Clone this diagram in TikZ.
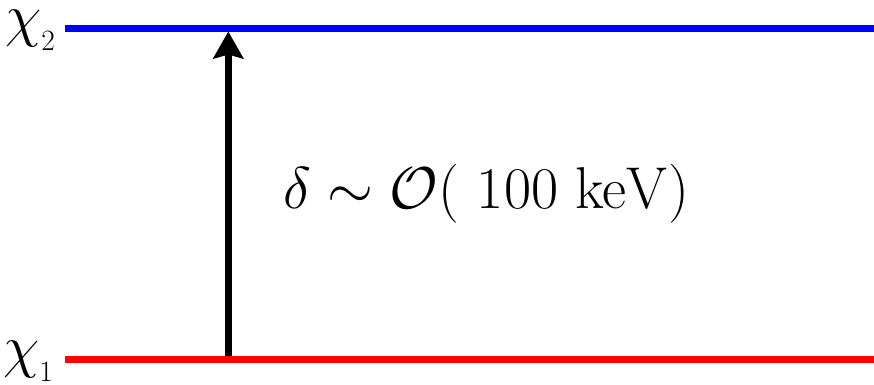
\documentclass[tikz,border=0pt]{standalone}
\usepackage{fix-cm}
\usepackage{tikz}
\usetikzlibrary{arrows.meta}

\begin{document}
\begin{tikzpicture}[x=1pt, y=1pt,
      level/.style={line width=6.8pt},
      lbl/.style={inner sep=0pt, anchor=base east, font=\fontsize{59}{62}\selectfont},
      gap/.style={line width=7pt, -{Stealth[length=27pt, width=30pt, inset=4pt]}}]
    \useasboundingbox (0,0) rectangle (874,384);
    % levels
    \coordinate (lo) at (65,24.5);
    \coordinate (lo end) at (874,24.5);
    \coordinate (hi) at (65,355.6);
    \coordinate (hi end) at (874,355.6);
    \draw[level, red] (lo) -- (lo end);
    \draw[level, blue] (hi) -- (hi end);
    \node[lbl] (chi1) at (54,17.5) {$\chi_{_1}$};
    \node[lbl] (chi2) at (56,348.5) {$\chi_{_2}$};
    % splitting
    \coordinate (up) at (228.3,27.9);
    \coordinate (top) at (228.3,352.5);
    \draw[gap] (up) -- (top);
    \node[inner sep=0pt, anchor=base west, font=\fontsize{59}{64}\selectfont]
      (delta) at (283,176) {$\delta\sim\mathcal{O}(\ 100\ \mathrm{keV})$};
\end{tikzpicture}
\end{document}
